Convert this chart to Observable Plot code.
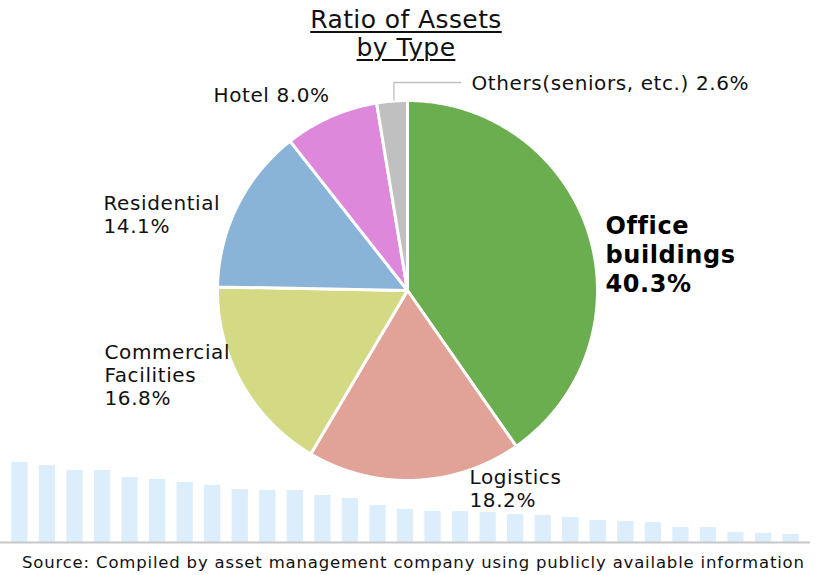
<!DOCTYPE html>
<html><head><meta charset="utf-8">
<script src="https://cdn.jsdelivr.net/npm/d3@7"></script>
<script src="https://cdn.jsdelivr.net/npm/@observablehq/plot@0.6"></script>
<style>
body{margin:0;background:#fff;}
#wrap{position:relative;width:827px;height:575px;overflow:hidden;font-family:"DejaVu Sans",sans-serif;background:#fff;}
#title{position:absolute;left:0;top:6px;width:812px;text-align:center;font-size:25px;line-height:28px;letter-spacing:0.4px;color:#111;text-decoration:underline;text-decoration-thickness:1.5px;text-underline-offset:3px;z-index:3;}
#source{position:absolute;left:22px;top:552px;font-size:16.5px;line-height:22px;letter-spacing:0.82px;color:#111;white-space:nowrap;z-index:3;}
#wrap svg{position:absolute;left:0;top:0;}
</style></head>
<body><div id="wrap"><div id="title">Ratio of Assets<br>by Type</div><div id="source">Source: Compiled by asset management company using publicly available information</div></div>
<script>
// ---- data ----
const categories = ["Office buildings", "Logistics", "Commercial Facilities", "Residential", "Hotel", "Others(seniors, etc.)"];
const shares = [40.3, 18.2, 16.8, 14.1, 8.0, 2.6];
const sliceColors = ["#6aae50", "#e1a397", "#d4da83", "#89b4d8", "#de88dc", "#c0c0c0"];
const sliceLabels = ["Office\nbuildings\n40.3%", "Logistics\n18.2%", "Commercial\nFacilities\n16.8%", "Residential\n14.1%", "Hotel 8.0%", "Others(seniors, etc.) 2.6%"];
// decorative background bars (heights read in px)
const bgBarValues = [80, 77, 72, 72, 65, 63, 60, 57, 53, 52, 52, 47, 44, 37, 33, 31, 31, 30, 28, 27, 25, 22, 21, 20, 15, 15, 10, 9, 8];

// ---- layout ----
const W = 827, H = 575;
const cx = 407, cy = 290, R = 190;
const labelPos = [
  {x: 605, y: 253}, {x: 469, y: 487.5}, {x: 104, y: 374}, {x: 103, y: 214}, {x: 213, y: 94}, {x: 471, y: 82}
];

// background bars
const bgIdx = bgBarValues.map((_, i) => i);
const bars = Plot.plot({
  width: W, height: H,
  marginLeft: 0, marginRight: 17, marginTop: 442, marginBottom: 33,
  style: {background: "transparent"},
  x: {type: "band", domain: bgIdx, padding: 0.41, axis: null, round: false},
  y: {domain: [0, 100], axis: null},
  marks: [
    Plot.barY(bgIdx, {x: d => d, y: d => bgBarValues[d], fill: "#dcedfc"}),
    Plot.ruleY([0], {stroke: "#c8c8c8", strokeWidth: 2})
  ]
});
document.getElementById("wrap").appendChild(bars);

// pie slices computed from shares
const arcs = d3.pie().sort(null).value(d => d)(shares);
const piePts = [];
arcs.forEach((a, i) => {
  const name = categories[i];
  piePts.push({name, x: cx, y: cy});
  const n = Math.max(2, Math.ceil((a.endAngle - a.startAngle) / 0.01));
  for (let k = 0; k <= n; k++) {
    const t = a.startAngle + (a.endAngle - a.startAngle) * k / n;
    piePts.push({name, x: cx + R * Math.sin(t), y: cy - R * Math.cos(t)});
  }
  piePts.push({name, x: cx, y: cy});
});

// leader for Others
const oArc = arcs[5];
const om = (oArc.startAngle + oArc.endAngle) / 2;
const lx = cx + (R + 1) * Math.sin(om) + 2, ly = cy - (R + 1) * Math.cos(om);
const leader = [{x: lx, y: ly}, {x: lx, y: 82}, {x: 460, y: 82}];

const labels = sliceLabels.map((t, i) => ({text: t, ...labelPos[i], i}));

const pie = Plot.plot({
  width: W, height: H, margin: 0,
  style: {background: "transparent", fontFamily: "DejaVu Sans", color: "#111", letterSpacing: "0.6px"},
  x: {domain: [0, W], axis: null},
  y: {domain: [0, H], reverse: true, axis: null},
  color: {domain: categories, range: sliceColors},
  marks: [
    Plot.line(piePts, {x: "x", y: "y", z: "name", fill: "name", stroke: "white", strokeWidth: 3, strokeLinejoin: "round", curve: "linear"}),
    Plot.line(leader, {x: "x", y: "y", stroke: "#c0c0c0", strokeWidth: 1.3}),
    Plot.text(labels.filter(d => d.i === 0), {x: "x", y: "y", text: "text", textAnchor: "start", fontSize: 24, fontWeight: "bold", lineHeight: 1.2, fill: "#000"}),
    Plot.text(labels.filter(d => d.i !== 0), {x: "x", y: "y", text: "text", textAnchor: "start", fontSize: 20, lineHeight: 1.15, fill: "#111"})
  ]
});
document.getElementById("wrap").appendChild(pie);
</script>
</body></html>
